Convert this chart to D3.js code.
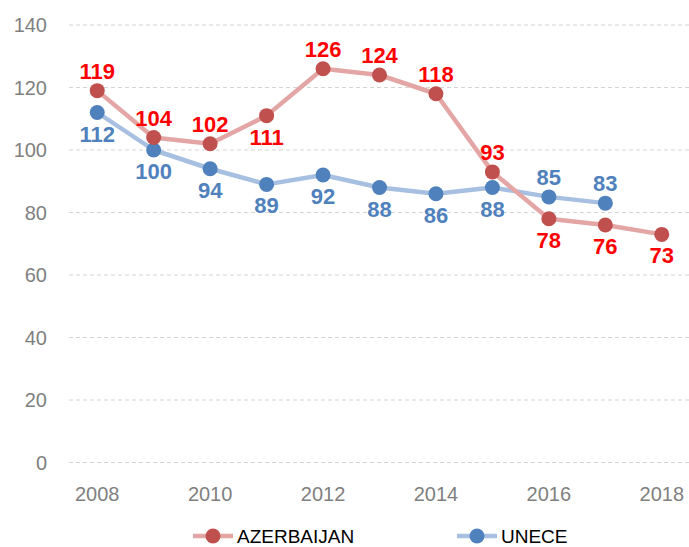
<!DOCTYPE html>
<html>
<head>
<meta charset="utf-8">
<script src="https://cdn.jsdelivr.net/npm/d3@7"></script>
<style>
  body { margin: 0; background: #fff; }
  text { font-family: "Liberation Sans", Arial, sans-serif; }
</style>
</head>
<body>
<script>
var width = 689,
    height = 547;

var years = [2008, 2009, 2010, 2011, 2012, 2013, 2014, 2015, 2016, 2017, 2018];
var azerbaijan = [119, 104, 102, 111, 126, 124, 118, 93, 78, 76, 73];
var unece = [112, 100, 94, 89, 92, 88, 86, 88, 85, 83];
var yTicks = [0, 20, 40, 60, 80, 100, 120, 140];
var xTickYears = [2008, 2010, 2012, 2014, 2016, 2018];
// label above (-1) or below (+1) the point
var azPos = [-1, -1, -1, 1, -1, -1, -1, -1, 1, 1, 1];
var unPos = [1, 1, 1, 1, 1, 1, 1, 1, -1, -1];

var x = d3.scalePoint()
    .domain(years)
    .range([69, 690])
    .padding(0.5);

var y = d3.scaleLinear()
    .domain([0, 140])
    .range([462.5, 25]);

var svg = d3.select("body").append("svg")
    .attr("width", width)
    .attr("height", height);

// grid
svg.append("g").selectAll("line")
    .data(yTicks)
  .enter().append("line")
    .attr("x1", 69)
    .attr("x2", 689)
    .attr("y1", function(d) { return y(d); })
    .attr("y2", function(d) { return y(d); })
    .attr("stroke", "#d4d4d4")
    .attr("stroke-width", 1)
    .attr("stroke-dasharray", "4,3");

svg.append("g").selectAll("text")
    .data(yTicks)
  .enter().append("text")
    .attr("x", 47)
    .attr("y", function(d) { return y(d) + 7; })
    .attr("text-anchor", "end")
    .attr("fill", "#7f7f7f")
    .style("font-size", "20px")
    .text(function(d) { return d; });

svg.append("g").selectAll("text")
    .data(xTickYears)
  .enter().append("text")
    .attr("x", function(d) { return x(d); })
    .attr("y", 501)
    .attr("text-anchor", "middle")
    .attr("fill", "#7f7f7f")
    .style("font-size", "20px")
    .text(function(d) { return d; });

var series = [
  {name: "UNECE", values: unece, pos: unPos, line: "#a7bfe0", dot: "#4f81bd", label: "#4f81bd"},
  {name: "AZERBAIJAN", values: azerbaijan, pos: azPos, line: "#e3a6a5", dot: "#c0504d", label: "#ff0000"}
];

var line = d3.line()
    .x(function(d, i) { return x(years[i]); })
    .y(function(d) { return y(d); });

series.forEach(function(s) {
  svg.append("path")
      .datum(s.values)
      .attr("d", line)
      .attr("fill", "none")
      .attr("stroke", s.line)
      .attr("stroke-width", 4.5)
      .attr("stroke-linejoin", "round");
});

series.forEach(function(s) {
  svg.append("g").selectAll("circle")
      .data(s.values)
    .enter().append("circle")
      .attr("cx", function(d, i) { return x(years[i]); })
      .attr("cy", function(d) { return y(d); })
      .attr("r", 7.5)
      .attr("fill", s.dot);
});

series.forEach(function(s) {
  svg.append("g").selectAll("text")
      .data(s.values)
    .enter().append("text")
      .attr("x", function(d, i) { return x(years[i]); })
      .attr("y", function(d, i) { return y(d) + (s.pos[i] < 0 ? -12 : 29); })
      .attr("text-anchor", "middle")
      .attr("fill", s.label)
      .style("font-size", "22px")
      .style("font-weight", "bold")
      .text(function(d) { return d; });
});

// legend
var legend = [
  {name: "AZERBAIJAN", x: 193, line: "#e3a6a5", dot: "#c0504d"},
  {name: "UNECE", x: 457, line: "#a7bfe0", dot: "#4f81bd"}
];
var lg = svg.append("g").selectAll("g")
    .data(legend)
  .enter().append("g")
    .attr("transform", function(d) { return "translate(" + d.x + ",536)"; });
lg.append("line")
    .attr("x1", 0).attr("x2", 40)
    .attr("stroke", function(d) { return d.line; })
    .attr("stroke-width", 4.5);
lg.append("circle")
    .attr("cx", 20).attr("r", 7.5)
    .attr("fill", function(d) { return d.dot; });
lg.append("text")
    .attr("x", 44)
    .attr("y", 6.5)
    .attr("fill", "#000")
    .style("font-size", "19px")
    .text(function(d) { return d.name; });
</script>
</body>
</html>
